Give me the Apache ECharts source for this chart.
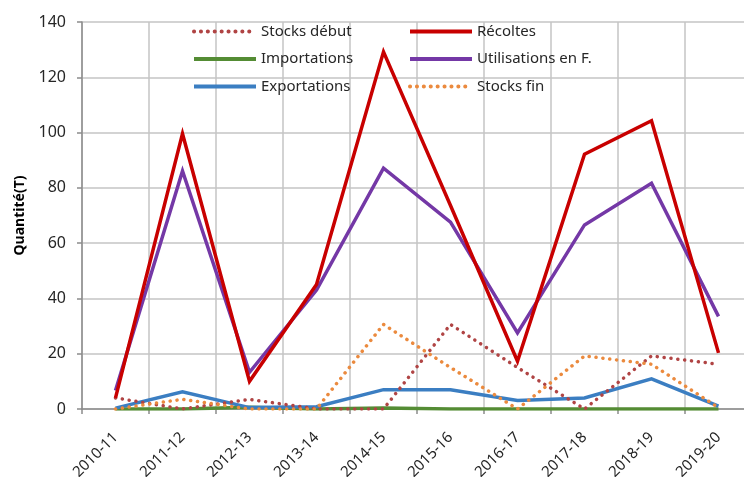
<!DOCTYPE html>
<html>
<head>
<meta charset="utf-8">
<script src="https://cdn.jsdelivr.net/npm/echarts@6/dist/echarts.min.js"></script>
<style>
  html, body { margin: 0; padding: 0; background: #fff; }
  #chart { width: 744px; height: 477px; }
</style>
</head>
<body>
<div id="chart"></div>
<script>
// campagnes
var campagnes = ['2010-11', '2011-12', '2012-13', '2013-14', '2014-15', '2015-16', '2016-17', '2017-18', '2018-19', '2019-20'];

// quantités (T)
var stocksDebut   = [4, 0, 3.5, 0, 0, 30.6, 15, 0, 19.2, 16.2];
var recoltes      = [4, 99.6, 10, 45, 129.2, 73.6, 17.3, 92.2, 104.3, 20.3];
var importations  = [0, 0, 0.6, 0, 0.4, 0, 0, 0, 0, 0];
var utilisations  = [6.7, 86.1, 13.3, 43, 87.1, 67.6, 27.5, 66.6, 81.7, 33.5];
var exportations  = [0.3, 6.2, 0.5, 0.8, 7, 7, 3.1, 4, 10.9, 1];
var stocksFin     = [0, 3.5, 0, 0, 30.6, 15, 0, 19.2, 16.2, 0.5];

var yTicks = { min: 0, max: 140, interval: 20 };

var police = 'Noto Sans';

function ligne(nom, donnees, couleur, pointille) {
    return {
        name: nom,
        type: 'line',
        data: donnees,
        symbol: 'none',
        smooth: false,
        lineStyle: pointille
            ? { color: couleur, width: 3.5, type: [0.1, 6.8], cap: 'round' }
            : { color: couleur, width: 3.5, join: 'miter' },
        itemStyle: { color: couleur },
        emphasis: { disabled: true }
    };
}

function legende(gauche, noms) {
    return {
        orient: 'vertical', left: gauche, top: 19,
        itemWidth: 62, itemHeight: 14, itemGap: 12.5,
        itemStyle: { opacity: 0 },
        lineStyle: { width: 4 },
        textStyle: { fontFamily: police, fontSize: 15, color: '#262626' },
        data: noms
    };
}

var chart = echarts.init(document.getElementById('chart'));

// la zone de tracé dépasse à droite, comme dans l'original (coupé)
chart.setOption({
    animation: false,
    backgroundColor: '#fff',
    grid: { left: 82, top: 22, width: 670, bottom: 68, outerBoundsMode: 'none', containLabel: false },
    legend: [
        legende(187, ['Stocks début', 'Importations', 'Exportations']),
        legende(403, ['Récoltes', 'Utilisations en F.', 'Stocks fin'])
    ],
    xAxis: {
        type: 'category',
        data: campagnes,
        boundaryGap: true,
        axisLine: { lineStyle: { color: '#8c8c8c', width: 1.5 } },
        axisTick: { show: true, length: 5, lineStyle: { color: '#8c8c8c', width: 1.5 } },
        axisLabel: { rotate: 45, margin: 26, fontFamily: police, fontSize: 15, color: '#262626' },
        splitLine: { show: true, lineStyle: { color: '#c4c4c4', width: 1.5 } }
    },
    yAxis: {
        type: 'value',
        min: yTicks.min, max: yTicks.max, interval: yTicks.interval,
        name: 'Quantité(T)',
        nameLocation: 'middle',
        nameGap: 55,
        nameTextStyle: { fontFamily: police, fontSize: 14, fontWeight: 'bold', color: '#000' },
        axisLine: { show: true, lineStyle: { color: '#8c8c8c', width: 1.5 } },
        axisTick: { show: true, length: 5, lineStyle: { color: '#8c8c8c', width: 1.5 } },
        axisLabel: { margin: 16, fontFamily: police, fontSize: 16, color: '#262626' },
        splitLine: { show: true, lineStyle: { color: '#c4c4c4', width: 1.5 } }
    },
    series: [
        ligne('Importations', importations, '#548c34', false),
        ligne('Exportations', exportations, '#3b7ec2', false),
        ligne('Stocks début', stocksDebut, '#b04444', true),
        ligne('Stocks fin', stocksFin, '#eb8a3e', true),
        ligne('Utilisations en F.', utilisations, '#7438a6', false),
        ligne('Récoltes', recoltes, '#c80000', false)
    ]
});
</script>
</body>
</html>
